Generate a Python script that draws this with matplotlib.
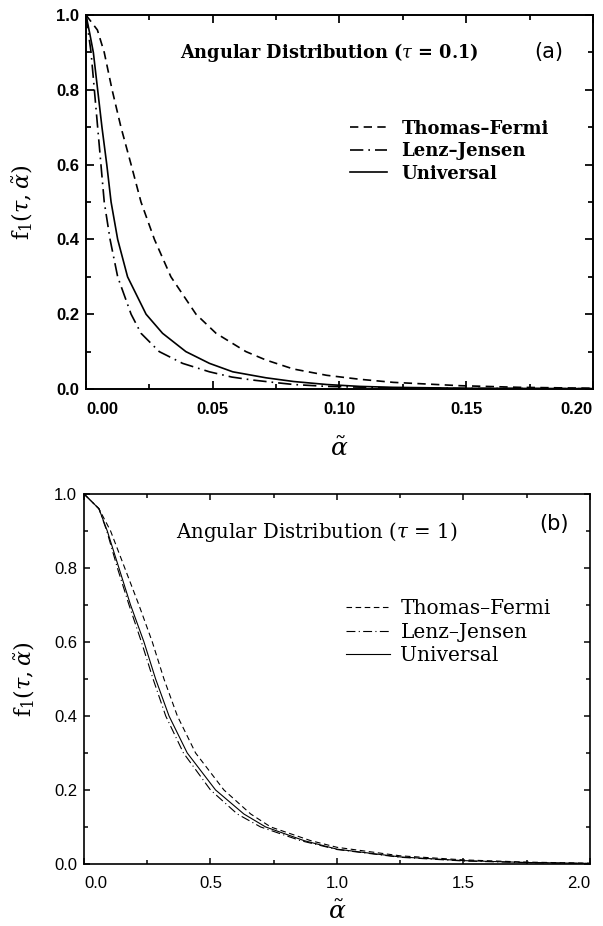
"""Angular distribution f1(tau, alpha~) for three screening potentials, two panels."""

import matplotlib
matplotlib.use("Agg")
import matplotlib.pyplot as plt
from matplotlib.ticker import MultipleLocator, FixedLocator

# ---- panel (a): tau = 0.1 ----
TF_A_X = [0.0, 0.0045, 0.0072, 0.0103, 0.0138, 0.0178, 0.0217, 0.027, 0.0335, 0.0434,
          0.0513, 0.0631, 0.071, 0.0818, 0.095, 0.108, 0.1212, 0.1475, 0.171, 0.2]
TF_A_Y = [1.0, 0.96, 0.9, 0.8, 0.7, 0.6, 0.5, 0.4, 0.3, 0.2,
          0.149, 0.1, 0.0775, 0.0535, 0.0366, 0.026, 0.0178, 0.0089, 0.0045, 0.002]

LJ_A_X = [0.0, 0.001, 0.002, 0.0033, 0.0046, 0.0059, 0.0072, 0.0095, 0.0125, 0.0178,
          0.0217, 0.0289, 0.0381, 0.0487, 0.0575, 0.0657, 0.075, 0.082, 0.095, 0.121,
          0.15, 0.2]
LJ_A_Y = [1.0, 0.95, 0.9, 0.8, 0.7, 0.6, 0.5, 0.4, 0.3, 0.2,
          0.149, 0.1, 0.0686, 0.046, 0.032, 0.024, 0.017, 0.012, 0.007, 0.003,
          0.0015, 0.0008]

UN_A_X = [0.0, 0.0015, 0.0029, 0.0046, 0.0063, 0.0082, 0.0099, 0.0125, 0.0164, 0.0237,
          0.0302, 0.0394, 0.0487, 0.0579, 0.071, 0.082, 0.095, 0.108, 0.121, 0.15, 0.2]
UN_A_Y = [1.0, 0.95, 0.9, 0.8, 0.7, 0.6, 0.5, 0.4, 0.3, 0.2,
          0.149, 0.1, 0.0686, 0.046, 0.030, 0.020, 0.012, 0.007, 0.0045, 0.002, 0.001]

# ---- panel (b): tau = 1 ----
TF_B_X = [0.0, 0.059, 0.105, 0.161, 0.217, 0.270, 0.316, 0.369, 0.441, 0.553,
          0.659, 0.738, 0.896, 1.0, 1.25, 1.5, 1.75, 2.0]
TF_B_Y = [1.0, 0.96, 0.9, 0.8, 0.7, 0.6, 0.5, 0.4, 0.3, 0.2,
          0.135, 0.1, 0.063, 0.045, 0.022, 0.011, 0.005, 0.002]

LJ_B_X = [0.0, 0.059, 0.090, 0.132, 0.178, 0.227, 0.273, 0.323, 0.393, 0.50,
          0.606, 0.698, 0.856, 1.0, 1.25, 1.5, 1.75, 2.0]
LJ_B_Y = [1.0, 0.96, 0.9, 0.8, 0.7, 0.6, 0.5, 0.4, 0.3, 0.2,
          0.135, 0.1, 0.063, 0.039, 0.018, 0.008, 0.0035, 0.0012]

UN_B_X = [0.0, 0.059, 0.092, 0.138, 0.184, 0.237, 0.283, 0.336, 0.408, 0.520,
          0.632, 0.718, 0.870, 1.0, 1.25, 1.5, 1.75, 2.0]
UN_B_Y = [1.0, 0.96, 0.9, 0.8, 0.7, 0.6, 0.5, 0.4, 0.3, 0.2,
          0.135, 0.1, 0.063, 0.040, 0.019, 0.009, 0.004, 0.0015]

LABELS = ["Thomas\u2013Fermi", "Lenz\u2013Jensen", "Universal"]
XTICKS_A = [0.0, 0.05, 0.10, 0.15, 0.20]
XTICKLABELS_A = ["0.00", "0.05", "0.10", "0.15", "0.20"]
XTICKS_B = [0.0, 0.5, 1.0, 1.5, 2.0]
XTICKLABELS_B = ["0.0", "0.5", "1.0", "1.5", "2.0"]
YTICKS = [0.0, 0.2, 0.4, 0.6, 0.8, 1.0]
YTICKLABELS = ["0.0", "0.2", "0.4", "0.6", "0.8", "1.0"]

DASH = (0, (5, 3.2))
DASHDOT = (0, (8, 3, 1, 3))

plt.rcParams["mathtext.fontset"] = "dejavuserif"


def style_axes(ax, xmax, xticks, xlabels, minor_x, bold, lw, major_len, minor_len):
    weight = "bold" if bold else "normal"
    ax.set_xlim(0, xmax)
    ax.set_ylim(0, 1.0)
    ax.xaxis.set_major_locator(FixedLocator(xticks))
    ax.xaxis.set_minor_locator(MultipleLocator(minor_x))
    ax.yaxis.set_major_locator(FixedLocator(YTICKS))
    ax.yaxis.set_minor_locator(MultipleLocator(0.1))
    ax.set_xticklabels(xlabels, fontfamily="Liberation Sans", fontweight=weight, fontsize=12)
    ax.set_yticklabels(YTICKLABELS, fontfamily="Liberation Sans", fontweight=weight, fontsize=12)
    xl = ax.get_xticklabels()
    xl[0].set_horizontalalignment("left")
    xl[-1].set_horizontalalignment("right")
    ax.tick_params(which="both", direction="in", top=True, right=True, width=lw * 0.9)
    ax.tick_params(which="major", length=major_len)
    ax.tick_params(which="minor", length=minor_len)
    ax.tick_params(axis="x", which="major", pad=9)
    ax.tick_params(axis="y", which="major", pad=5)
    for sp in ax.spines.values():
        sp.set_linewidth(lw)


fig = plt.figure(figsize=(6.03, 9.26), dpi=100)

# top panel
ax1 = fig.add_axes([0.1426, 0.5799, 0.8408, 0.4039])
lw1 = 1.2
ax1.plot(TF_A_X, TF_A_Y, color="black", lw=lw1, linestyle=DASH, label=LABELS[0])
ax1.plot(LJ_A_X, LJ_A_Y, color="black", lw=lw1, linestyle=DASHDOT, label=LABELS[1])
ax1.plot(UN_A_X, UN_A_Y, color="black", lw=lw1, linestyle="-", label=LABELS[2])
style_axes(ax1, 0.2, XTICKS_A, XTICKLABELS_A, 0.025, True, 1.4, 5.5, 3.5)
ax1.text(0.479, 0.90, "Angular Distribution ($\\tau$ = 0.1)", transform=ax1.transAxes,
         ha="center", va="center", fontsize=12.8, fontweight="bold", fontfamily="DejaVu Serif")
ax1.text(0.913, 0.90, "(a)", transform=ax1.transAxes, ha="center", va="center",
         fontsize=15, fontfamily="DejaVu Sans")
ax1.legend(loc="upper left", bbox_to_anchor=(0.521, 0.72), frameon=False,
           borderpad=0, borderaxespad=0, handlelength=2.05, handletextpad=0.8,
           labelspacing=0.25, prop={"family": "DejaVu Serif", "weight": "bold", "size": 13})
ax1.set_ylabel(r"$\mathrm{f}_1(\tau,\tilde{\alpha})$", fontsize=16)
ax1.yaxis.set_label_coords(-0.10, 0.5)
ax1.set_xlabel(r"$\tilde{\alpha}$", fontsize=18)
ax1.xaxis.set_label_coords(0.5, -0.128)

# bottom panel
ax2 = fig.add_axes([0.1393, 0.0670, 0.8391, 0.3996])
lw2 = 0.8
ax2.plot(TF_B_X, TF_B_Y, color="black", lw=lw2, linestyle=DASH, label=LABELS[0])
ax2.plot(LJ_B_X, LJ_B_Y, color="black", lw=lw2, linestyle=DASHDOT, label=LABELS[1])
ax2.plot(UN_B_X, UN_B_Y, color="black", lw=lw2, linestyle="-", label=LABELS[2])
style_axes(ax2, 2.0, XTICKS_B, XTICKLABELS_B, 0.25, False, 1.2, 4.5, 3.0)
ax2.text(0.46, 0.897, "Angular Distribution ($\\tau$ = 1)", transform=ax2.transAxes,
         ha="center", va="center", fontsize=14.2, fontfamily="DejaVu Serif")
ax2.text(0.929, 0.92, "(b)", transform=ax2.transAxes, ha="center", va="center",
         fontsize=15, fontfamily="DejaVu Sans")
ax2.legend(loc="upper left", bbox_to_anchor=(0.518, 0.715), frameon=False,
           borderpad=0, borderaxespad=0, handlelength=2.2, handletextpad=0.5,
           labelspacing=0.22, prop={"family": "DejaVu Serif", "size": 14.5})
ax2.set_ylabel(r"$\mathrm{f}_1(\tau,\tilde{\alpha})$", fontsize=16)
ax2.yaxis.set_label_coords(-0.093, 0.5)
ax2.set_xlabel(r"$\tilde{\alpha}$", fontsize=18)
ax2.xaxis.set_label_coords(0.5, -0.097)

fig.savefig("out.png", dpi=100, facecolor="white")
